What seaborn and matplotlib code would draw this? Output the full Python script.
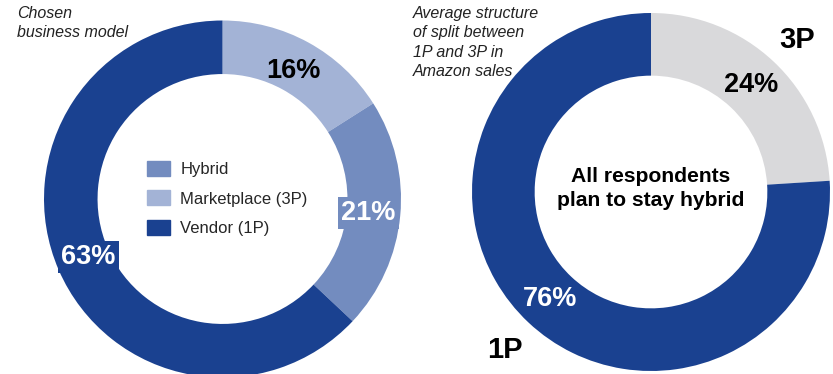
import matplotlib
matplotlib.use("Agg")
import matplotlib.pyplot as plt
import matplotlib.patches as mpatches
import seaborn as sns

# Chosen business model (share of respondents)
model_labels = ["Marketplace (3P)", "Hybrid", "Vendor (1P)"]
model_values = [16, 21, 63]

# Average split of Amazon sales between 3P and 1P
split_labels = ["3P", "1P"]
split_values = [24, 76]

legend_order = ["Hybrid", "Marketplace (3P)", "Vendor (1P)"]

DARK = "#1A4190"
MID = "#738CBF"
LIGHT = "#A3B3D6"
GREY = "#D9D9DB"

sns.set_theme(style="white")
plt.rcParams["font.family"] = ["Liberation Sans", "DejaVu Sans"]

W, H = 833, 374
fig = plt.figure(figsize=(W / 100, H / 100), dpi=100)


def px_axes(cx, cy, r):
    """Square axes centred at pixel (cx, cy) from top-left, radius r px."""
    return fig.add_axes([(cx - r) / W, (H - cy - r) / H, 2 * r / W, 2 * r / H])


def fx(x):
    return x / W


def fy(y):
    return 1 - y / H


model_colors = dict(zip(model_labels, sns.color_palette([LIGHT, MID, DARK])))

# Left donut
ax1 = px_axes(222.5, 199, 178.5)
wedges1, _, pct1 = ax1.pie(
    model_values,
    colors=[model_colors[l] for l in model_labels],
    startangle=90,
    counterclock=False,
    radius=1.0,
    wedgeprops=dict(width=0.30, linewidth=0),
    autopct=lambda p: f"{p:.0f}%",
    pctdistance=0.82,
)
pct_styles1 = [
    dict(color="black", bbox=None),
    dict(color="white", bbox=dict(boxstyle="square,pad=0.12", fc=MID, ec="none")),
    dict(color="white", bbox=dict(boxstyle="square,pad=0.12", fc=DARK, ec="none")),
]
for t, st in zip(pct1, pct_styles1):
    t.set_fontsize(19.5)
    t.set_fontweight("bold")
    t.set_color(st["color"])
    if st["bbox"] is not None:
        t.set_bbox(st["bbox"])
ax1.set_xlim(-1, 1)
ax1.set_ylim(-1, 1)
ax1.set_aspect("equal")
ax1.axis("off")

handles = [mpatches.Patch(color=model_colors[l], label=l) for l in legend_order]
fig.legend(
    handles=handles,
    loc="center left",
    bbox_to_anchor=(fx(147), fy(198.5)),
    frameon=False,
    fontsize=12,
    handlelength=1.38,
    handleheight=1.0,
    handletextpad=0.62,
    labelspacing=0.78,
    borderpad=0,
    borderaxespad=0,
)

fig.text(fx(17), fy(6), "Chosen\nbusiness model", ha="left", va="top",
         fontsize=11.5, style="italic", color="#222222", linespacing=1.36)

# Right donut
ax2 = px_axes(651, 192, 179)
wedges2, lab2, pct2 = ax2.pie(
    split_values,
    labels=split_labels,
    colors=[GREY, DARK],
    startangle=90,
    counterclock=False,
    radius=1.0,
    wedgeprops=dict(width=0.35, linewidth=0),
    autopct=lambda p: f"{p:.0f}%",
    pctdistance=0.82,
    labeldistance=1.19,
    textprops=dict(fontsize=21, fontweight="bold", color="black"),
)
for t in lab2:
    t.set_ha("center")
    t.set_va("center_baseline")
for t, c in zip(pct2, ["black", "white"]):
    t.set_fontsize(19.5)
    t.set_fontweight("bold")
    t.set_color(c)
ax2.text(0, 0.02, "All respondents\nplan to stay hybrid", ha="center", va="center",
         fontsize=15.2, fontweight="bold", color="black", linespacing=1.32)
ax2.set_xlim(-1, 1)
ax2.set_ylim(-1, 1)
ax2.set_aspect("equal")
ax2.axis("off")

fig.text(fx(413), fy(6), "Average structure\nof split between\n1P and 3P in\nAmazon sales",
         ha="left", va="top", fontsize=11.5, style="italic", color="#222222",
         linespacing=1.37)

fig.savefig("out.png", dpi=100, facecolor="white")
